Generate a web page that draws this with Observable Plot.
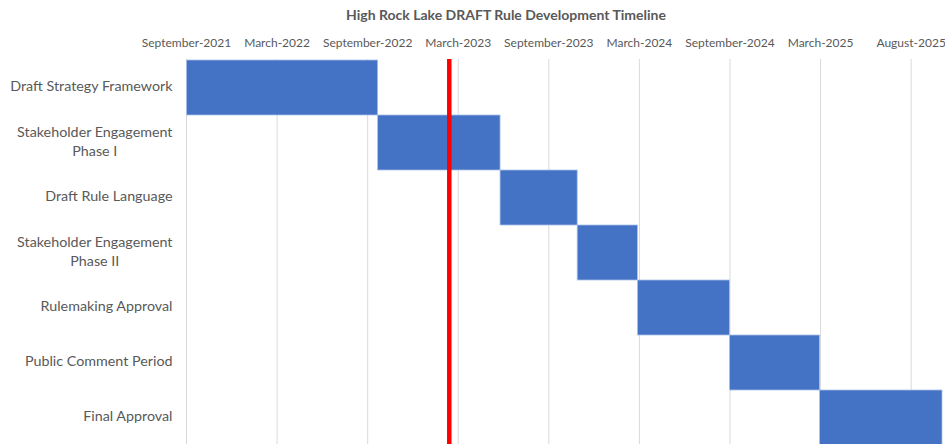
<!DOCTYPE html>
<html><head><meta charset="utf-8">
<script src="https://cdn.jsdelivr.net/npm/d3@7"></script>
<script src="https://cdn.jsdelivr.net/npm/@observablehq/plot@0.6"></script>
<style>
html,body{margin:0;padding:0;overflow:hidden;background:#fff;}
#wrap{position:relative;width:945px;height:444px;overflow:hidden;}
#title{position:absolute;top:6px;left:0;width:1012px;text-align:center;font:bold 14px Lato;color:#595959;}
#chart svg{display:block;}
</style></head><body>
<div id="wrap"><div id="title">High Rock Lake DRAFT Rule Development Timeline</div><div id="chart"></div></div>
<script>
const tasks = ["Draft Strategy Framework","Stakeholder Engagement Phase I","Draft Rule Language","Stakeholder Engagement Phase II","Rulemaking Approval","Public Comment Period","Final Approval"];
const taskLabels = ["Draft Strategy Framework","Stakeholder Engagement\nPhase I","Draft Rule Language","Stakeholder Engagement\nPhase II","Rulemaking Approval","Public Comment Period","Final Approval"];
const startDates = ["2021-09-06","2022-09-25","2023-05-29","2023-10-31","2024-02-29","2024-09-01","2025-03-01"];
const endDates   = ["2022-09-25","2023-05-29","2023-10-31","2024-02-29","2024-09-01","2025-03-01","2025-11-02"];
const todayDate = "2023-02-15";
const tickDates = ["2021-09-05","2022-03-06","2022-09-04","2023-03-05","2023-09-03","2024-03-03","2024-09-01","2025-03-02","2025-08-31"];
const tickLabels = ["September-2021","March-2022","September-2022","March-2023","September-2023","March-2024","September-2024","March-2025","August-2025"];
const axisStart = "2021-09-05", axisEnd = "2025-11-02";

const rows = tasks.map((t,i)=>({task:t, start:new Date(startDates[i]), end:new Date(endDates[i])}));
const ticks = tickDates.map(d=>new Date(d));

const plot = Plot.plot({
  width:945, height:446, marginTop:59, marginLeft:186, marginRight:3, marginBottom:0,
  style:{fontFamily:"Lato", fontSize:"12px", color:"#595959", background:"white"},
  x:{type:"utc", domain:[new Date(axisStart), new Date(axisEnd)], axis:null},
  y:{domain:tasks, padding:0, axis:null},
  marks:[
    Plot.gridX(ticks, {stroke:"#d9d9d9", strokeOpacity:1, strokeWidth:1}),
    Plot.axisX(ticks, {anchor:"top", tickSize:0, tickPadding:13, label:null,
      tickFormat:d=>tickLabels[ticks.findIndex(t=>+t===+d)], fontSize:12, fill:"#595959"}),
    Plot.axisY({anchor:"left", tickSize:0, tickPadding:14, label:null, dy:-3,
      tickFormat:t=>taskLabels[tasks.indexOf(t)], fontSize:14.3, lineHeight:1.33, fill:"#595959"}),
    Plot.barX(rows, {x1:"start", x2:"end", y:"task", fill:"#4472C4", stroke:"#a9c0ea", strokeWidth:0.8}),
    Plot.ruleX([new Date(todayDate)], {stroke:"#ff0000", strokeWidth:4.5})
  ]
});
document.getElementById("chart").append(plot);
plot.querySelectorAll('[aria-label="y-axis tick label"] text').forEach(t=>{
  const spans = t.querySelectorAll("tspan");
  if (spans.length>1) {
    const w = Math.max(...[...spans].map(s=>s.getComputedTextLength()));
    spans.forEach(s=>{ s.setAttribute("x", -w/2); s.setAttribute("text-anchor","middle"); });
  }
});
</script>
</body></html>
